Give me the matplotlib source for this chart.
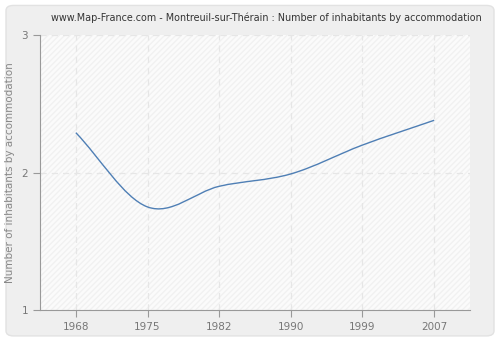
import matplotlib
matplotlib.use("Agg")
import matplotlib.pyplot as plt
import numpy as np
from matplotlib.path import Path
from matplotlib.patches import PathPatch, FancyBboxPatch, Rectangle

years = ["1968", "1975", "1982", "1990", "1999", "2007"]
inhabitants = [2.29, 1.75, 1.90, 1.99, 2.20, 2.38]
y_ticks = [1, 2, 3]

fig = plt.figure(figsize=(5, 3.4), dpi=100)
fig.patch.set_facecolor("white")
fig.patches.append(FancyBboxPatch((0.012, 0.012), 0.976, 0.972,
                                  boxstyle="round,pad=0,rounding_size=0.015",
                                  transform=fig.transFigure, facecolor="#efefef",
                                  edgecolor="#e2e2e2", linewidth=1.0, zorder=-5))

ax = fig.add_axes([0.08, 0.088, 0.86, 0.809])
ax.set_facecolor("#fbfbfb")
ax.add_patch(Rectangle((0, 0), 1, 1, transform=ax.transAxes, facecolor="none",
                       hatch="//////", edgecolor="#f1f1f1", linewidth=0, zorder=0))

# smooth curve through the points (Catmull-Rom as cubic Bezier)
x = np.arange(len(years), dtype=float)
y = np.array(inhabitants)
slopes = np.gradient(y, x)
verts = [(x[0], y[0])]
codes = [Path.MOVETO]
for i in range(len(x) - 1):
    h = x[i + 1] - x[i]
    verts += [(x[i] + h / 3, y[i] + slopes[i] * h / 3),
              (x[i + 1] - h / 3, y[i + 1] - slopes[i + 1] * h / 3),
              (x[i + 1], y[i + 1])]
    codes += [Path.CURVE4] * 3
ax.add_patch(PathPatch(Path(verts, codes), facecolor="none", edgecolor="#4f7fb5",
                       linewidth=1.0, zorder=3))

ax.set_xlim(-0.5, len(years) - 0.5)
ax.set_ylim(1, 3)
ax.set_xticks(x)
ax.set_xticklabels(years)
ax.set_yticks(y_ticks)
ax.grid(True, color="#e6e6e6", linestyle=(0, (5, 4)), linewidth=0.9)
ax.set_axisbelow(True)

for side in ["top", "right"]:
    ax.spines[side].set_visible(False)
for side in ["left", "bottom"]:
    ax.spines[side].set_color("#999999")
ax.tick_params(colors="#999999", labelcolor="#777777", labelsize=7.5, length=5)

ax.set_ylabel("Number of inhabitants by accommodation", color="#888888", fontsize=7.5)
ax.yaxis.set_label_coords(-0.058, 0.5)
fig.text(0.532, 0.948, "www.Map-France.com - Montreuil-sur-Thérain : Number of inhabitants by accommodation",
         ha="center", va="center", fontsize=6.9, color="#333333")

fig.savefig("out.png", dpi=100, facecolor=fig.get_facecolor())
